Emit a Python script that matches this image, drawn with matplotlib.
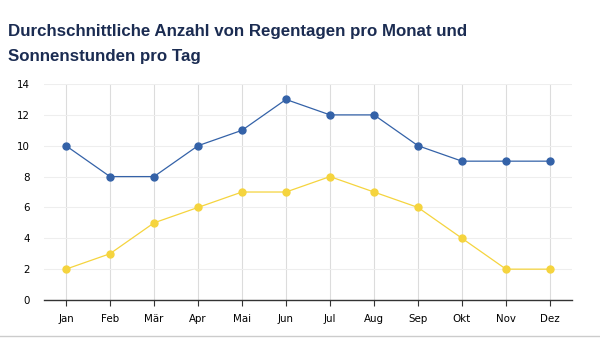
import matplotlib
matplotlib.use("Agg")
import matplotlib.pyplot as plt
from matplotlib.lines import Line2D

months = ["Jan", "Feb", "Mär", "Apr", "Mai", "Jun", "Jul", "Aug", "Sep", "Okt", "Nov", "Dez"]
regentage = [10, 8, 8, 10, 11, 13, 12, 12, 10, 9, 9, 9]
sonnenstunden = [2, 3, 5, 6, 7, 7, 8, 7, 6, 4, 2, 2]

fig = plt.figure(figsize=(6, 3.38), dpi=100)
ax = fig.add_axes([0.0733, 0.1124, 0.88, 0.639])

x = range(len(months))
ax.plot(x, regentage, "-o", color="#3462a8", lw=0.9, ms=5, zorder=3)
ax.plot(x, sonnenstunden, "-o", color="#f5d43e", lw=0.9, ms=5, zorder=3)

ax.set_xlim(-0.5, 11.5)
ax.set_ylim(0, 14)
ax.set_yticks(range(0, 15, 2))
ax.set_xticks(list(x))
ax.set_xticklabels(months)
ax.grid(axis="x", color="#dcdcdc", lw=0.8)
ax.grid(axis="y", color="#eeeeee", lw=0.8)
ax.set_axisbelow(True)
for s in ["top", "right", "left"]:
    ax.spines[s].set_visible(False)
ax.spines["bottom"].set_color("#333333")
ax.spines["bottom"].set_linewidth(1)
ax.tick_params(axis="x", length=4, color="#333333", labelsize=7.4, pad=6)
ax.tick_params(axis="y", length=0, labelsize=7.4, pad=10)

title_kw = dict(fontsize=12.15, fontweight="bold", color="#1b2c52",
                family=["Liberation Sans", "DejaVu Sans"])
fig.text(0.013, 0.894, "Durchschnittliche Anzahl von Regentagen pro Monat und", **title_kw)
fig.text(0.013, 0.821, "Sonnenstunden pro Tag", **title_kw)
fig.add_artist(Line2D([0, 1], [0.006, 0.006], color="#cccccc", lw=1))

fig.savefig("out.png", dpi=100)
